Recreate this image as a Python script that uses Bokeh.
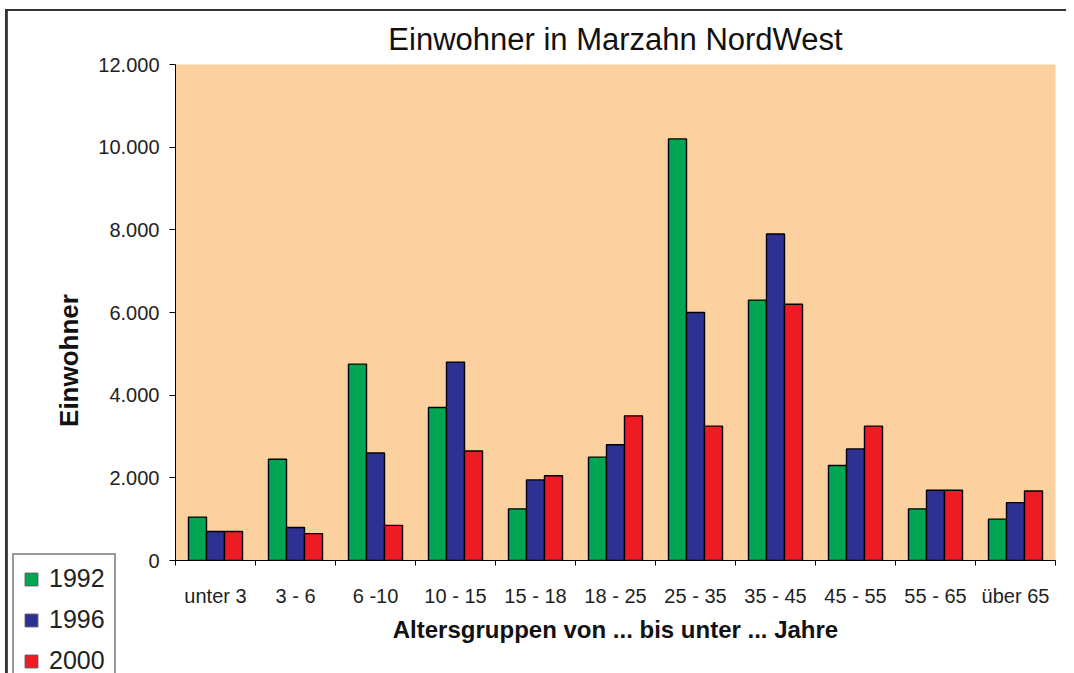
import numpy as np
from bokeh.plotting import figure
from bokeh.models import (ColumnDataSource, Range1d, FixedTicker, CustomJSTickFormatter,
                          Label, Legend, LegendItem)
from bokeh.layouts import column
from bokeh.transform import dodge
from bokeh.embed import file_html
from bokeh.resources import INLINE

categories = ["unter 3", "3 - 6", "6 -10", "10 - 15", "15 - 18", "18 - 25",
              "25 - 35", "35 - 45", "45 - 55", "55 - 65", "über 65"]
years = ["1992", "1996", "2000"]
values_1992 = [1050, 2450, 4750, 3700, 1250, 2500, 10200, 6300, 2300, 1250, 1000]
values_1996 = [700, 800, 2600, 4800, 1950, 2800, 6000, 7900, 2700, 1700, 1400]
values_2000 = [700, 650, 850, 2650, 2050, 3500, 3250, 6200, 3250, 1700, 1680]
y_ticks = [0, 2000, 4000, 6000, 8000, 10000, 12000]

colors = ["#00A651", "#2E3192", "#ED1C24"]
FONT = "Liberation Sans"

# page geometry: content box of the framed layout starts at (OX, OY)
OX, OY = 7, 11
PAGE_W, PAGE_H = 1066, 673
W, H = PAGE_W - OX, PAGE_H - OY
LEFT, RIGHT, TOP, BOTTOM = 175 - OX, 11, 64 - OY, PAGE_H - 560

n = len(categories)
source = ColumnDataSource(dict(
    x=list(np.arange(n) + 0.5),
    v1992=values_1992, v1996=values_1996, v2000=values_2000,
))

p = figure(width=W, height=H, output_backend="svg", toolbar_location=None,
           x_range=Range1d(0, n), y_range=Range1d(0, 12000),
           title="Einwohner in Marzahn NordWest",
           min_border_left=LEFT, min_border_right=RIGHT,
           min_border_top=TOP, min_border_bottom=BOTTOM)

p.background_fill_color = "#FCD09F"
p.border_fill_color = "white"
p.outline_line_color = None
p.xgrid.visible = False
p.ygrid.visible = False

p.title.align = "center"
p.title.text_font = FONT
p.title.text_font_size = "31px"
p.title.text_font_style = "normal"
p.title.text_color = "#111111"
p.title.standoff = 16

bw = 0.225
for i, (yr, col) in enumerate(zip(years, colors)):
    p.vbar(x=dodge("x", (i - 1) * bw, range=p.x_range), top="v" + yr, width=bw,
           source=source, fill_color=col, line_color="black", line_width=1.4)

# x axis
xa = p.xaxis[0]
xa.ticker = FixedTicker(ticks=list(np.arange(n) + 0.5), minor_ticks=list(range(n + 1)))
xa.formatter = CustomJSTickFormatter(args=dict(cats=categories),
                                     code="return cats[Math.floor(tick)] || '';")
xa.major_tick_line_color = None
xa.major_tick_out = 0
xa.minor_tick_line_color = "black"
xa.minor_tick_out = 5
xa.minor_tick_in = 0
xa.major_label_standoff = 19
xa.major_label_text_font = FONT
xa.major_label_text_font_size = "20px"
xa.major_label_text_color = "#222222"
xa.axis_label = "Altersgruppen von ... bis unter ... Jahre"
xa.axis_label_text_font = FONT
xa.axis_label_text_font_size = "24px"
xa.axis_label_text_font_style = "bold"
xa.axis_label_text_color = "#111111"
xa.axis_label_standoff = 6
xa.axis_line_color = "black"

# y axis
ya = p.yaxis[0]
ya.ticker = FixedTicker(ticks=y_ticks)
ya.formatter = CustomJSTickFormatter(
    code="return Math.round(tick).toString().replace(/\\B(?=(\\d{3})+(?!\\d))/g, '.');")
ya.major_tick_out = 6
ya.major_tick_in = 0
ya.minor_tick_line_color = None
ya.major_label_standoff = 10
ya.major_label_text_font = FONT
ya.major_label_text_font_size = "20px"
ya.major_label_text_color = "#222222"
ya.axis_line_color = "black"

# transparent overlay (shifted left so that its frame starts at the layout's left edge)
# carrying the y-axis title and the legend
ov = figure(width=W + LEFT, height=H, output_backend="svg", toolbar_location=None,
            x_range=Range1d(0, W - RIGHT), y_range=Range1d(0, H),
            x_axis_location=None, y_axis_location=None,
            min_border_left=LEFT, min_border_right=RIGHT, min_border_top=0, min_border_bottom=0)
for g in ov.grid:
    g.visible = False
ov.outline_line_color = None
ov.background_fill_alpha = 0
ov.border_fill_alpha = 0
ov.margin = (-H, 0, 0, -LEFT)

ylab = Label(x=68 - OX, y=PAGE_H - 360, x_units="screen", y_units="screen", text="Einwohner",
             angle=np.pi / 2, text_align="center", text_baseline="middle",
             text_font=FONT, text_font_size="26px", text_font_style="bold",
             text_color="#111111")
ov.add_layout(ylab)

# legend renderers: mapped through a range that puts them outside the canvas
ov.extra_x_ranges = {"off": Range1d(100, 200)}
items = []
for yr, col in zip(years, colors):
    r = ov.vbar(x="x", top="v" + yr, width=bw, source=source, x_range_name="off",
                fill_color=col, line_color="#555555", line_width=1)
    items.append(LegendItem(label=yr, renderers=[r]))
LEG_H = 135
lg = Legend(items=items, location=(12 - OX, PAGE_H - 551 - LEG_H), orientation="vertical")
lg.label_text_font = FONT
lg.label_text_font_size = "25px"
lg.label_text_color = "#222222"
lg.glyph_width = 16
lg.glyph_height = 16
lg.label_height = 20
lg.spacing = 12
lg.padding = 9
lg.margin = 0
lg.label_standoff = 10
lg.border_line_color = "#333333"
lg.border_line_width = 2
lg.background_fill_color = "white"
lg.background_fill_alpha = 1.0
ov.add_layout(lg)

layout = column(p, ov, spacing=0)
layout.margin = (9, 0, 0, 5)
layout.styles = {"border-left": "2px solid #333333", "border-top": "2px solid #333333"}
open("out.html", "w").write(file_html(layout, INLINE))
